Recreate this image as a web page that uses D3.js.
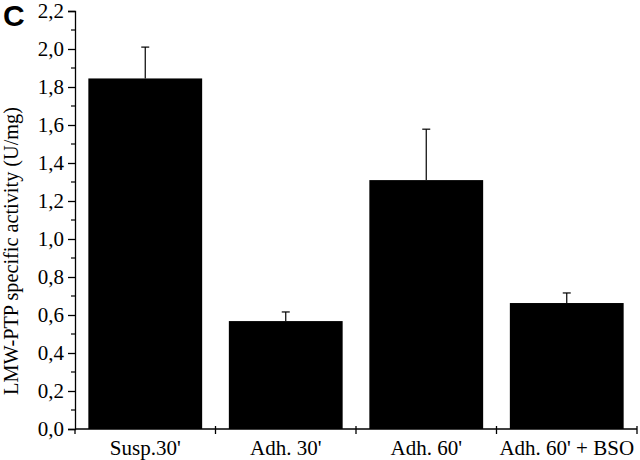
<!DOCTYPE html>
<html>
<head>
<meta charset="utf-8">
<script src="https://cdn.jsdelivr.net/npm/d3@7"></script>
<style>
  body { margin: 0; background: #fff; }
  svg { display: block; }
</style>
</head>
<body>
<svg id="chart" width="640" height="460"></svg>
<script>
var categories = ["Susp.30'", "Adh. 30'", "Adh. 60'", "Adh. 60' + BSO"];
var values = [1.845, 0.568, 1.31, 0.663];
var errors = [0.165, 0.048, 0.268, 0.053];
var yTicks = [0, 0.2, 0.4, 0.6, 0.8, 1.0, 1.2, 1.4, 1.6, 1.8, 2.0, 2.2];
var yMinor = [0.1, 0.3, 0.5, 0.7, 0.9, 1.1, 1.3, 1.5, 1.7, 1.9, 2.1];

var svg = d3.select("#chart"),
    serif = "'Liberation Serif', 'DejaVu Serif', serif";

var x = d3.scaleBand()
    .domain(categories)
    .range([75, 637])
    .paddingInner(0.19)
    .paddingOuter(0.095);

var y = d3.scaleLinear()
    .domain([0, 2.2])
    .range([429, 11]);

var fmt = function(d) { return d3.format(".1f")(d).replace(".", ","); };

// bars
svg.append("g")
    .selectAll("rect")
    .data(values)
    .enter().append("rect")
        .attr("x", function(d, i) { return x(categories[i]); })
        .attr("y", function(d) { return y(d); })
        .attr("width", x.bandwidth())
        .attr("height", function(d) { return y(0) - y(d); })
        .attr("fill", "#000");

// error bars (upper only)
var err = svg.append("g")
    .attr("stroke", "#000")
    .attr("stroke-width", 1.2);
values.forEach(function(v, i) {
    var cx = x(categories[i]) + x.bandwidth() / 2;
    err.append("line")
        .attr("x1", cx).attr("x2", cx)
        .attr("y1", y(v)).attr("y2", y(v + errors[i]));
    err.append("line")
        .attr("x1", cx - 4).attr("x2", cx + 4)
        .attr("y1", y(v + errors[i])).attr("y2", y(v + errors[i]));
});

// y axis
var yAxis = svg.append("g")
    .attr("transform", "translate(" + x.range()[0] + ",0)")
    .call(d3.axisLeft(y).tickValues(yTicks).tickFormat(fmt).tickSize(7).tickPadding(4));
yAxis.select(".domain").attr("stroke-width", 1.3);
yAxis.selectAll(".tick line").attr("stroke-width", 1.3);
yAxis.selectAll(".tick text")
    .attr("font-size", 21)
    .attr("font-family", serif)
    .attr("fill", "#000");
yAxis.selectAll(".minor")
    .data(yMinor)
    .enter().append("line")
        .attr("class", "minor")
        .attr("x1", -4).attr("x2", 0)
        .attr("y1", function(d) { return y(d); })
        .attr("y2", function(d) { return y(d); })
        .attr("stroke", "#000")
        .attr("stroke-width", 1.2);

// x axis
var step = x.step(),
    bounds = categories.map(function(c) { return x(c) - step * x.paddingInner() / 2 + step; });
var xAxis = svg.append("g");
xAxis.append("line")
    .attr("x1", x.range()[0]).attr("x2", x.range()[1])
    .attr("y1", y(0)).attr("y2", y(0))
    .attr("stroke", "#000")
    .attr("stroke-width", 1.3);
xAxis.selectAll(".xt")
    .data([x.range()[0]].concat(bounds))
    .enter().append("line")
        .attr("class", "xt")
        .attr("x1", function(d) { return d; })
        .attr("x2", function(d) { return d; })
        .attr("y1", function(d, i) { return i === 0 ? y(0) : y(0) - 3; })
        .attr("y2", y(0) + 5)
        .attr("stroke", "#000")
        .attr("stroke-width", 1.3);
xAxis.selectAll("text")
    .data(categories)
    .enter().append("text")
        .attr("x", function(d) { return x(d) + x.bandwidth() / 2; })
        .attr("y", 455)
        .attr("text-anchor", "middle")
        .attr("font-family", serif)
        .attr("font-size", 21)
        .text(function(d) { return d; });

// y title
svg.append("text")
    .attr("transform", "translate(18,251) rotate(-90)")
    .attr("text-anchor", "middle")
    .attr("font-family", serif)
    .attr("font-size", 21)
    .attr("textLength", 288)
    .attr("lengthAdjust", "spacingAndGlyphs")
    .text("LMW-PTP specific activity (U/mg)");

// panel letter
svg.append("text")
    .attr("x", 3)
    .attr("y", 26)
    .attr("font-family", "'Liberation Sans', Arial, sans-serif")
    .attr("font-weight", "bold")
    .attr("font-size", 30)
    .text("C");
</script>
</body>
</html>
